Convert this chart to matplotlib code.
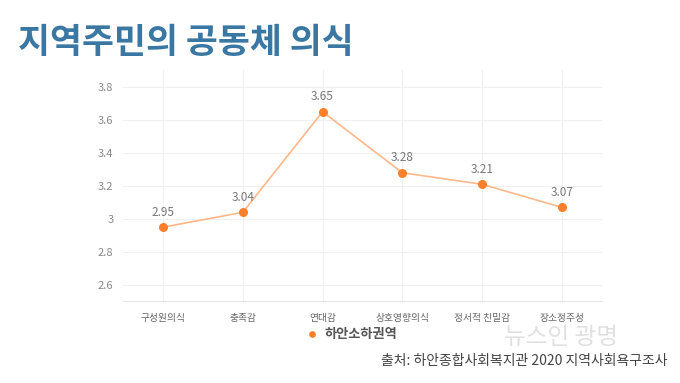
import matplotlib
matplotlib.use("Agg")
import matplotlib.pyplot as plt
import numpy as np

#---- Donnees
categories = ["구성원의식", "충족감", "연대감", "상호영향의식", "정서적 친밀감", "장소정주성"]
values = [2.95, 3.04, 3.65, 3.28, 3.21, 3.07]
value_labels = ["2.95", "3.04", "3.65", "3.28", "3.21", "3.07"]
series_name = "하안소하권역"
y_ticks = [2.6, 2.8, 3.0, 3.2, 3.4, 3.6, 3.8]
y_tick_labels = ["2.6", "2.8", "3", "3.2", "3.4", "3.6", "3.8"]
title = "지역주민의 공동체 의식"
source = "출처: 하안종합사회복지관 2020 지역사회욕구조사"
watermark = "뉴스인 광명"

plt.rcParams['font.family'] = ['Noto Sans CJK KR', 'DejaVu Sans']

fig = plt.figure(figsize=(6.8, 3.83), dpi=100)
ax = fig.add_axes([0.181, 0.213, 0.704, 0.603])

x = np.arange(len(categories))
ax.plot(x, values, color="#FFB88A", lw=1.2, zorder=2)
ax.scatter(x, values, s=30, color="#FF7F2A", zorder=3, label=series_name)

for xi, v, lab in zip(x, values, value_labels):
    ax.annotate(lab, (xi, v), xytext=(0, 6), textcoords="offset points",
                ha="center", va="bottom", fontsize=8.5, color="#777777")

ax.set_xlim(-0.5, len(categories) - 0.5)
ax.set_ylim(2.5, 3.9)
ax.set_xticks(x)
ax.set_xticklabels(categories, fontsize=7, color="#666666")
ax.set_yticks(y_ticks)
ax.set_yticklabels(y_tick_labels, fontsize=8, color="#888888")
ax.tick_params(length=0, pad=8)
ax.tick_params(axis="y", pad=7)

ax.grid(True, color="#F0F0F0", lw=0.8)
ax.set_axisbelow(True)
for s in ["top", "right", "left"]:
    ax.spines[s].set_visible(False)
ax.spines["bottom"].set_color("#E6E6E6")

#---- Legende
leg = ax.legend(loc="center", bbox_to_anchor=(0.47, -0.14), frameon=False,
                handletextpad=0.0, markerscale=0.7, prop={"size": 9.5, "weight": "bold"})
for t in leg.get_texts():
    t.set_color("#555555")

#---- Textes
fig.text(0.026, 0.89, title, fontsize=25, fontweight="heavy", color="#3A78A3",
         va="center", ha="left")
fig.text(0.825, 0.118, watermark, fontsize=17, color="#DDDDDD",
         ha="center", va="center", alpha=0.9)
fig.text(0.982, 0.058, source, fontsize=10, color="#444444", ha="right", va="center")

fig.savefig("out.png", dpi=100, facecolor="white")
